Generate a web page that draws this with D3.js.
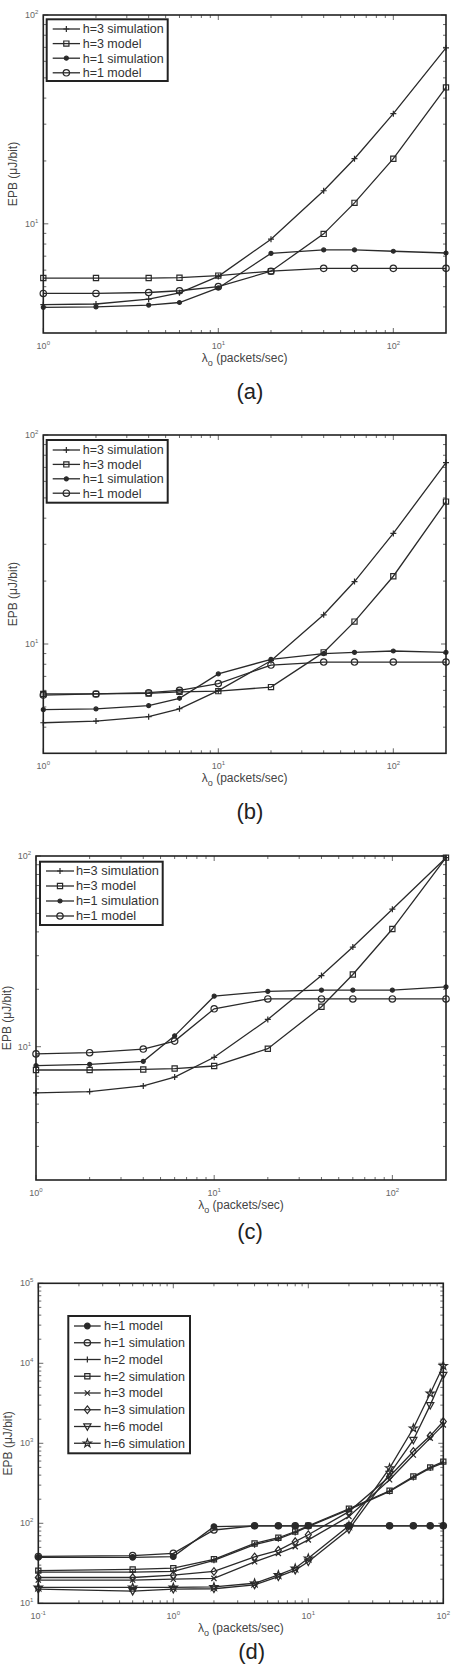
<!DOCTYPE html>
<html><head><meta charset="utf-8">
<script src="https://cdn.jsdelivr.net/npm/d3@7"></script>
<style>body{margin:0;background:#fff} svg{display:block}</style>
</head><body>
<svg id="c" width="454" height="1664"></svg>
<script>
// ---------------- DATA ----------------
const xABC = [1, 2, 4, 6, 10, 20, 40, 60, 100, 200];
const legendABC = ["h=3 simulation", "h=3 model", "h=1 simulation", "h=1 model"];

const aH3Sim   = [4.1, 4.13, 4.36, 4.67, 5.6, 8.44, 14.4, 20.5, 33.7, 69.6];
const aH3Model = [5.5, 5.5, 5.5, 5.52, 5.65, 5.93, 8.95, 12.6, 20.5, 45];
const aH1Sim   = [3.98, 4.0, 4.08, 4.2, 4.93, 7.22, 7.5, 7.5, 7.39, 7.25];
const aH1Model = [4.64, 4.64, 4.69, 4.78, 5.0, 5.93, 6.12, 6.12, 6.12, 6.12];

const bH3Sim   = [4.2, 4.28, 4.49, 4.9, 5.98, 8.32, 13.8, 19.9, 33.8, 73.8];
const bH3Model = [5.77, 5.77, 5.8, 5.9, 5.95, 6.22, 9.12, 12.8, 21.1, 48];
const bH1Sim   = [4.85, 4.89, 5.07, 5.5, 7.19, 8.45, 9.0, 9.12, 9.26, 9.12];
const bH1Model = [5.7, 5.77, 5.85, 6.0, 6.47, 7.93, 8.2, 8.2, 8.2, 8.2];

const cH3Sim   = [5.72, 5.82, 6.23, 6.93, 8.8, 13.9, 23.6, 33.3, 52.6, 98];
const cH3Model = [7.55, 7.55, 7.6, 7.68, 7.92, 9.76, 16.2, 23.9, 41.4, 98];
const cH1Sim   = [7.95, 8.08, 8.38, 11.4, 18.4, 19.5, 19.8, 19.8, 19.8, 20.6];
const cH1Model = [9.17, 9.3, 9.72, 10.7, 15.8, 17.8, 17.8, 17.8, 17.8, 17.8];

const xD = [0.1, 0.5, 1, 2, 4, 6, 8, 10, 20, 40, 60, 80, 100];
const legendD = ["h=1 model", "h=1 simulation", "h=2 model", "h=2 simulation",
                 "h=3 model", "h=3 simulation", "h=6 model", "h=6 simulation"];
const dH1Model = [37.6, 37.6, 38.3, 90.9, 93, 93, 93, 93, 93, 93, 93, 93, 93];
const dH1Sim   = [38.5, 39.4, 42.2, 82.5, 93, 93, 93, 93, 93, 93, 93, 93, 93];
const dH2Model = [24.5, 24.5, 25, 34.5, 54, 64, 77, 91, 148, 250, 375, 490, 570];
const dH2Sim   = [25.6, 26.5, 27.5, 35.5, 56, 66, 79, 93, 152, 255, 385, 500, 590];
const dH3Model = [19.5, 19.5, 20, 20.5, 33, 42, 51, 62, 122, 350, 715, 1160, 1700];
const dH3Sim   = [21, 21, 22.5, 25, 38, 46, 59, 72, 140, 385, 790, 1240, 1870];
const dH6Model = [15, 14.2, 15, 15.2, 17, 21.5, 26, 33, 84, 415, 1100, 3000, 7150];
const dH6Sim   = [15.8, 15.8, 15.8, 16, 17.8, 22.6, 27.4, 36.5, 93, 490, 1540, 4200, 9300];

const xTicksABC = [1, 10, 100];
const xTickExpABC = ["0", "1", "2"];
const yTicksABC = [10, 100];
const yTickExpABC = ["1", "2"];
const xTicksD = [0.1, 1, 10, 100];
const xTickExpD = ["-1", "0", "1", "2"];
const yTicksD = [10, 100, 1000, 10000, 100000];
const yTickExpD = ["1", "2", "3", "4", "5"];
const captions = ["(a)", "(b)", "(c)", "(d)"];

// ---------------- STYLE / LAYOUT ----------------
const FONT = "'Liberation Sans', Arial, Helvetica, sans-serif";
const INK = "#2a2a2a";
const svg = d3.select("#c");

function starPath(R) {
  const r = R * 0.4, pts = [];
  for (let i = 0; i < 10; i++) {
    const a = -Math.PI / 2 + i * Math.PI / 5, rr = i % 2 ? r : R;
    pts.push([rr * Math.cos(a), rr * Math.sin(a)]);
  }
  return "M" + pts.map(p => p[0].toFixed(2) + "," + p[1].toFixed(2)).join("L") + "Z";
}
const MARK = {
  plus:   {d: "M-3,0H3M0,-3V3", fill: false},
  times:  {d: "M-2.6,-2.6L2.6,2.6M-2.6,2.6L2.6,-2.6", fill: false},
  square: {d: "M-2.6,-2.6H2.6V2.6H-2.6Z", fill: false},
  circle: {d: "M3.2,0A3.2,3.2 0 1,1 -3.2,0A3.2,3.2 0 1,1 3.2,0Z", fill: false},
  dot:    {d: "M2,0A2,2 0 1,1 -2,0A2,2 0 1,1 2,0Z", fill: true},
  bigdot: {d: "M2.8,0A2.8,2.8 0 1,1 -2.8,0A2.8,2.8 0 1,1 2.8,0Z", fill: true},
  diamond:{d: "M0,-3.8L3,0L0,3.8L-3,0Z", fill: false},
  tri:    {d: "M-3.6,-2.6H3.6L0,3.8Z", fill: false},
  star:   {d: starPath(4.2), fill: false}
};
function drawMark(g, type, x, y) {
  const m = MARK[type];
  g.append("path").attr("d", m.d).attr("transform", `translate(${x},${y})`)
    .attr("fill", m.fill ? INK : "none").attr("stroke", INK).attr("stroke-width", 1.2);
}

const panels = [
  { xs: xABC, xDom: [1, 200], yDom: [3, 100], box: {l: 43.3, r: 446, t: 15, b: 333},
    xTicks: xTicksABC, xExp: xTickExpABC, yTicks: yTicksABC, yExp: yTickExpABC,
    series: [[aH3Sim, "plus"], [aH3Model, "square"], [aH1Sim, "dot"], [aH1Model, "circle"]], labels: legendABC,
    legend: {x: 46.7, y: 19.3, w: 121, h: 61.7, row0: 29, dy: 14.6, l0: 52.7, l1: 80, tx: 82.7, fs: 12.5},
    cap: {x: 250, y: 398.7} },
  { xs: xABC, xDom: [1, 200], yDom: [3, 100], box: {l: 43.3, r: 446, t: 435, b: 753.3},
    xTicks: xTicksABC, xExp: xTickExpABC, yTicks: yTicksABC, yExp: yTickExpABC,
    series: [[bH3Sim, "plus"], [bH3Model, "square"], [bH1Sim, "dot"], [bH1Model, "circle"]], labels: legendABC,
    legend: {x: 46.7, y: 440, w: 121, h: 62.7, row0: 450, dy: 14.4, l0: 52.7, l1: 80, tx: 82.7, fs: 12.5},
    cap: {x: 250, y: 818.7} },
  { xs: xABC, xDom: [1, 200], yDom: [2, 100], box: {l: 36, r: 446, t: 856, b: 1180},
    xTicks: xTicksABC, xExp: xTickExpABC, yTicks: yTicksABC, yExp: yTickExpABC,
    series: [[cH3Sim, "plus"], [cH3Model, "square"], [cH1Sim, "dot"], [cH1Model, "circle"]], labels: legendABC,
    legend: {x: 40, y: 861.7, w: 122.7, h: 63.3, row0: 871, dy: 15, l0: 46, l1: 74, tx: 76, fs: 12.8},
    cap: {x: 250, y: 1239} },
  { xs: xD, xDom: [0.1, 100], yDom: [10, 100000], box: {l: 38.3, r: 443.3, t: 1283.3, b: 1603.3},
    xTicks: xTicksD, xExp: xTickExpD, yTicks: yTicksD, yExp: yTickExpD,
    series: [[dH1Model, "bigdot"], [dH1Sim, "circle"], [dH2Model, "plus"], [dH2Sim, "square"],
             [dH3Model, "times"], [dH3Sim, "diamond"], [dH6Model, "tri"], [dH6Sim, "star"]], labels: legendD,
    legend: {x: 68.3, y: 1316, w: 121.7, h: 137.3, row0: 1326, dy: 16.75, l0: 74, l1: 100.7, tx: 104, fs: 12.5},
    cap: {x: 251.7, y: 1659} }
];

function minorTicks(dom) {
  const out = [];
  const lo = Math.floor(Math.log10(dom[0])), hi = Math.ceil(Math.log10(dom[1]));
  for (let e = lo; e <= hi; e++) for (let k = 2; k <= 9; k++) {
    const v = k * Math.pow(10, e);
    if (v > dom[0] * 1.0001 && v < dom[1] * 0.9999) out.push(v);
  }
  return out;
}

panels.forEach((p, pi) => {
  const B = p.box;
  const x = d3.scaleLog().domain(p.xDom).range([B.l, B.r]);
  const y = d3.scaleLog().domain(p.yDom).range([B.b, B.t]);
  const g = svg.append("g");

  // ticks (inside, all four sides)
  const tg = g.append("g").attr("stroke", "#444").attr("stroke-width", 0.8);
  const tick = (v, len, axis) => {
    if (axis === "x") {
      const px = x(v);
      tg.append("line").attr("x1", px).attr("x2", px).attr("y1", B.b).attr("y2", B.b - len);
      tg.append("line").attr("x1", px).attr("x2", px).attr("y1", B.t).attr("y2", B.t + len);
    } else {
      const py = y(v);
      tg.append("line").attr("y1", py).attr("y2", py).attr("x1", B.l).attr("x2", B.l + len);
      tg.append("line").attr("y1", py).attr("y2", py).attr("x1", B.r).attr("x2", B.r - len);
    }
  };
  minorTicks(p.xDom).forEach(v => tick(v, 3, "x"));
  minorTicks(p.yDom).forEach(v => tick(v, 3, "y"));
  p.xTicks.forEach(v => tick(v, 5, "x"));
  p.yTicks.forEach(v => tick(v, 5, "y"));

  // tick labels
  p.xTicks.forEach((v, i) => {
    const t = g.append("text").attr("x", x(v)).attr("y", B.b + 15.5).attr("text-anchor", "middle")
      .attr("font-family", FONT).attr("font-size", 9).attr("fill", "#666");
    t.append("tspan").text("10");
    t.append("tspan").attr("dy", -4).attr("font-size", 6).text(p.xExp[i]);
  });
  p.yTicks.forEach((v, i) => {
    const t = g.append("text").attr("x", B.l - 5).attr("y", y(v) + 3).attr("text-anchor", "end")
      .attr("font-family", FONT).attr("font-size", 9).attr("fill", "#666");
    t.append("tspan").text("10");
    t.append("tspan").attr("dy", -4).attr("font-size", 6).text(p.yExp[i]);
  });

  // series
  const line = d3.line().x((d, i) => x(p.xs[i])).y(d => y(d));
  p.series.forEach(([vals, mk]) => {
    g.append("path").attr("d", line(vals)).attr("fill", "none")
      .attr("stroke", INK).attr("stroke-width", 1.3);
    const mg = g.append("g");
    vals.forEach((v, i) => drawMark(mg, mk, x(p.xs[i]), y(v)));
  });

  // frame
  g.append("rect").attr("x", B.l).attr("y", B.t).attr("width", B.r - B.l).attr("height", B.b - B.t)
    .attr("fill", "none").attr("stroke", "#222").attr("stroke-width", 1.6);

  // legend
  const L = p.legend;
  g.append("rect").attr("x", L.x).attr("y", L.y).attr("width", L.w).attr("height", L.h)
    .attr("fill", "#fff").attr("stroke", "#222").attr("stroke-width", 2);
  p.series.forEach(([vals, mk], i) => {
    const ry = L.row0 + i * L.dy;
    g.append("line").attr("x1", L.l0).attr("x2", L.l1).attr("y1", ry).attr("y2", ry)
      .attr("stroke", INK).attr("stroke-width", 1.3);
    drawMark(g, mk, (L.l0 + L.l1) / 2, ry);
    g.append("text").attr("x", L.tx).attr("y", ry + 4.4).attr("font-family", FONT)
      .attr("font-size", L.fs).attr("fill", "#333").text(p.labels[i]);
  });

  // axis labels
  const cx = (B.l + B.r) / 2, cy = (B.t + B.b) / 2;
  const lx = Math.max(B.l - 26.6, 10.8);
  g.append("text").attr("transform", `translate(${lx},${cy}) rotate(-90)`)
    .attr("text-anchor", "middle").attr("font-family", FONT).attr("font-size", 12)
    .attr("fill", "#444").text("EPB (μJ/bit)");
  const xl = g.append("text").attr("x", cx).attr("y", B.b + 28.8).attr("text-anchor", "middle")
    .attr("font-family", FONT).attr("font-size", 12).attr("fill", "#444");
  xl.append("tspan").text("λ");
  xl.append("tspan").attr("dy", 4).attr("font-size", 9).text("o");
  xl.append("tspan").attr("dy", -4).text(" (packets/sec)");

  // caption
  g.append("text").attr("x", p.cap.x).attr("y", p.cap.y).attr("text-anchor", "middle")
    .attr("font-family", FONT).attr("font-size", 22).attr("fill", "#222").text(captions[pi]);
});
</script>
</body></html>
